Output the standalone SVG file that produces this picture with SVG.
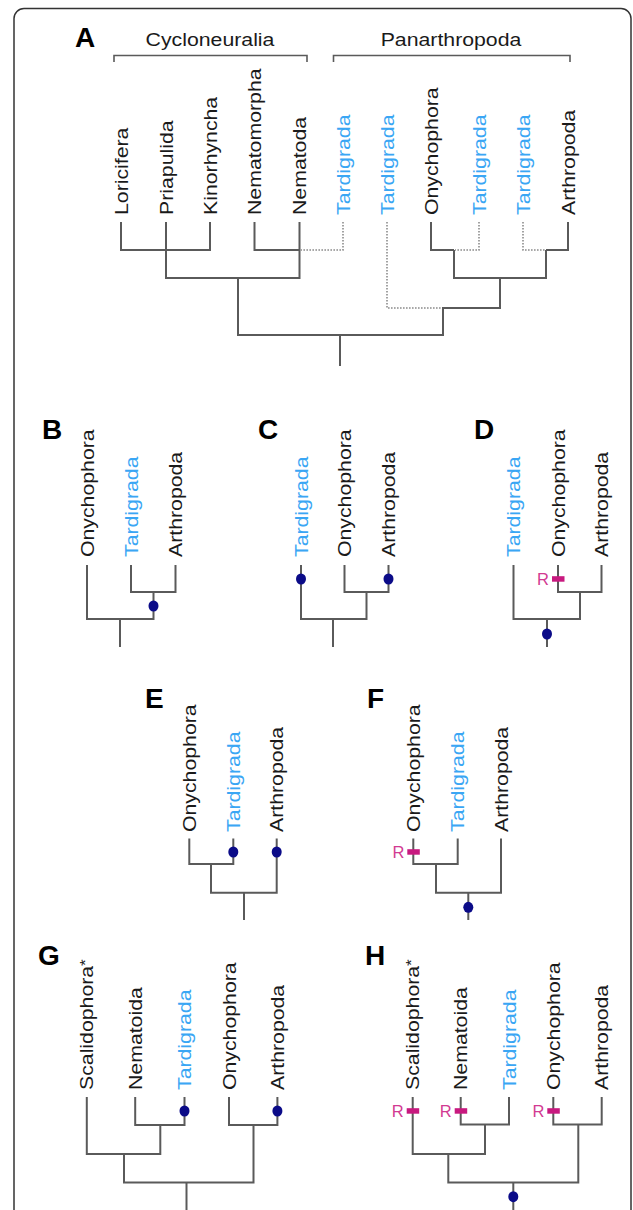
<svg xmlns="http://www.w3.org/2000/svg" width="633" height="1210" viewBox="0 0 633 1210">
<style>
.ln{stroke:#5a5a5a;stroke-width:2;fill:none;stroke-linejoin:miter}
.br{stroke:#5a5a5a;stroke-width:1.6;fill:none}
.dt{stroke:#8c8c8c;stroke-width:1.6;stroke-dasharray:1.6 1.4;fill:none}
.lab{font-family:"Liberation Sans",Arial,sans-serif;font-size:18.5px;fill:#1a1a1a}
.tg{fill:#3aa6f4}
.pl{font-family:"Liberation Sans",Arial,sans-serif;font-weight:bold;font-size:28px;fill:#000}
.dot{fill:#0b0b88}
.rb{fill:#c8197f}
.rt{font-family:"Liberation Sans",Arial,sans-serif;font-size:16.5px;fill:#d23a92;text-anchor:end}
</style>
<rect x="14" y="8.5" width="617" height="1240" rx="10" fill="#fff" stroke="#333" stroke-width="1.5"/>

<!-- Panel A -->
<g id="panelA">
<text class="pl" x="75" y="47">A</text>
<g id="A-Cycloneuralia"><text class="lab" transform="translate(210,46) scale(1.15,1)" text-anchor="middle">Cycloneuralia</text></g>
<g id="A-Panarthropoda"><text class="lab" transform="translate(451,46) scale(1.15,1)" text-anchor="middle">Panarthropoda</text></g>
<g id="A-Loricifera"><text class="lab" transform="translate(127.5,215) rotate(-90) scale(1.15,1)">Loricifera</text></g>
<g id="A-Priapulida"><text class="lab" transform="translate(172.5,215) rotate(-90) scale(1.15,1)">Priapulida</text></g>
<g id="A-Kinorhyncha"><text class="lab" transform="translate(216.5,215) rotate(-90) scale(1.15,1)">Kinorhyncha</text></g>
<g id="A-Nematomorpha"><text class="lab" transform="translate(261,215) rotate(-90) scale(1.15,1)">Nematomorpha</text></g>
<g id="A-Nematoda"><text class="lab" transform="translate(306,215) rotate(-90) scale(1.15,1)">Nematoda</text></g>
<g id="A-Tardigrada1"><text class="lab tg" transform="translate(349.5,215) rotate(-90) scale(1.15,1)">Tardigrada</text></g>
<g id="A-Tardigrada2"><text class="lab tg" transform="translate(393.5,215) rotate(-90) scale(1.15,1)">Tardigrada</text></g>
<g id="A-Onychophora"><text class="lab" transform="translate(437.5,215) rotate(-90) scale(1.15,1)">Onychophora</text></g>
<g id="A-Tardigrada3"><text class="lab tg" transform="translate(485.5,215) rotate(-90) scale(1.15,1)">Tardigrada</text></g>
<g id="A-Tardigrada4"><text class="lab tg" transform="translate(529.5,215) rotate(-90) scale(1.15,1)">Tardigrada</text></g>
<g id="A-Arthropoda"><text class="lab" transform="translate(574.5,215) rotate(-90) scale(1.15,1)">Arthropoda</text></g>
<g id="A-connectors">
<path class="br" d="M114,62 V55.5 H307 V62"/>
<path class="br" d="M333.5,62 V55.5 H570 V62"/>
<path class="ln" d="M121,222 V250 H210 V222"/>
<path class="ln" d="M166,222 V278 H299.5 V222"/>
<path class="ln" d="M254.5,222 V250 H299.5"/>
<path class="dt" d="M343,222 V250 H300.5"/>
<path class="ln" d="M238,278 V335 H443 V308 H500 V278"/>
<path class="ln" d="M454,250 V278 H546 V250"/>
<path class="ln" d="M431,222 V250 H454"/>
<path class="ln" d="M568,222 V250 H546"/>
<path class="dt" d="M387,222 V308 H442"/>
<path class="dt" d="M479,222 V250 H455"/>
<path class="dt" d="M523,222 V250 H545"/>
<path class="ln" d="M340,335 V366"/>
</g>
</g>

<!-- Panel B -->
<g id="panelB">
<text class="pl" x="42" y="439">B</text>
<g id="B-Onychophora"><text class="lab" transform="translate(93.5,557) rotate(-90) scale(1.15,1)">Onychophora</text></g>
<g id="B-Tardigrada"><text class="lab tg" transform="translate(137.5,557) rotate(-90) scale(1.15,1)">Tardigrada</text></g>
<g id="B-Arthropoda"><text class="lab" transform="translate(182,557) rotate(-90) scale(1.15,1)">Arthropoda</text></g>
<g id="B-connectors">
<path class="ln" d="M87,565 V619 H153.5 V592"/>
<path class="ln" d="M131,565 V592 H175.5 V565"/>
<path class="ln" d="M120,619 V647"/>
<ellipse class="dot" cx="153.5" cy="606" rx="5" ry="5.5"/>
</g>
</g>

<!-- Panel C -->
<g id="panelC">
<text class="pl" x="258" y="439">C</text>
<g id="C-Tardigrada"><text class="lab tg" transform="translate(307.5,557) rotate(-90) scale(1.15,1)">Tardigrada</text></g>
<g id="C-Onychophora"><text class="lab" transform="translate(351,557) rotate(-90) scale(1.15,1)">Onychophora</text></g>
<g id="C-Arthropoda"><text class="lab" transform="translate(395,557) rotate(-90) scale(1.15,1)">Arthropoda</text></g>
<g id="C-connectors">
<path class="ln" d="M301,565 V619 H366.5 V592"/>
<path class="ln" d="M344.5,565 V592 H388.5 V565"/>
<path class="ln" d="M333,619 V647"/>
<ellipse class="dot" cx="301" cy="579" rx="5" ry="5.5"/>
<ellipse class="dot" cx="388.5" cy="579" rx="5" ry="5.5"/>
</g>
</g>

<!-- Panel D -->
<g id="panelD">
<text class="pl" x="474" y="439">D</text>
<g id="D-Tardigrada"><text class="lab tg" transform="translate(520,557) rotate(-90) scale(1.15,1)">Tardigrada</text></g>
<g id="D-Onychophora"><text class="lab" transform="translate(564.5,557) rotate(-90) scale(1.15,1)">Onychophora</text></g>
<g id="D-Arthropoda"><text class="lab" transform="translate(608,557) rotate(-90) scale(1.15,1)">Arthropoda</text></g>
<g id="D-connectors">
<path class="ln" d="M513.5,565 V619 H580 V592"/>
<path class="ln" d="M558,565 V592 H601.5 V565"/>
<path class="ln" d="M547,619 V647"/>
<rect class="rb" x="552" y="576.2" width="12.5" height="5.5"/>
<text class="rt" x="549" y="584.8">R</text>
<ellipse class="dot" cx="547" cy="634" rx="5" ry="5.5"/>
</g>
</g>

<!-- Panel E -->
<g id="panelE">
<text class="pl" x="145" y="708">E</text>
<g id="E-Onychophora"><text class="lab" transform="translate(195.8,832) rotate(-90) scale(1.15,1)">Onychophora</text></g>
<g id="E-Tardigrada"><text class="lab tg" transform="translate(239.8,832) rotate(-90) scale(1.15,1)">Tardigrada</text></g>
<g id="E-Arthropoda"><text class="lab" transform="translate(283.2,832) rotate(-90) scale(1.15,1)">Arthropoda</text></g>
<g id="E-connectors">
<path class="ln" d="M189.3,838.5 V864 H233.3 V838.5"/>
<path class="ln" d="M211,864 V892.7 H276.7 V838.5"/>
<path class="ln" d="M244,892.7 V920"/>
<ellipse class="dot" cx="233.3" cy="852" rx="5" ry="5.5"/>
<ellipse class="dot" cx="276.7" cy="852" rx="5" ry="5.5"/>
</g>
</g>

<!-- Panel F -->
<g id="panelF">
<text class="pl" x="367" y="708">F</text>
<g id="F-Onychophora"><text class="lab" transform="translate(419.8,832) rotate(-90) scale(1.15,1)">Onychophora</text></g>
<g id="F-Tardigrada"><text class="lab tg" transform="translate(464.2,832) rotate(-90) scale(1.15,1)">Tardigrada</text></g>
<g id="F-Arthropoda"><text class="lab" transform="translate(507.5,832) rotate(-90) scale(1.15,1)">Arthropoda</text></g>
<g id="F-connectors">
<path class="ln" d="M413.3,838.5 V864 H457.7 V838.5"/>
<path class="ln" d="M436,864 V892.7 H501 V838.5"/>
<path class="ln" d="M468.3,892.7 V920"/>
<rect class="rb" x="407.3" y="849.2" width="12.5" height="5.5"/>
<text class="rt" x="404.3" y="857.8">R</text>
<ellipse class="dot" cx="468.3" cy="907.3" rx="5" ry="5.5"/>
</g>
</g>

<!-- Panel G -->
<g id="panelG">
<text class="pl" x="38" y="965">G</text>
<g id="G-Scalidophora"><text class="lab" transform="translate(93.3,1090) rotate(-90) scale(1.15,1)">Scalidophora<tspan font-size="15" dy="-3">*</tspan></text></g>
<g id="G-Nematoida"><text class="lab" transform="translate(141.7,1090) rotate(-90) scale(1.15,1)">Nematoida</text></g>
<g id="G-Tardigrada"><text class="lab tg" transform="translate(191,1090) rotate(-90) scale(1.15,1)">Tardigrada</text></g>
<g id="G-Onychophora"><text class="lab" transform="translate(235.5,1090) rotate(-90) scale(1.15,1)">Onychophora</text></g>
<g id="G-Arthropoda"><text class="lab" transform="translate(283.9,1090) rotate(-90) scale(1.15,1)">Arthropoda</text></g>
<g id="G-connectors">
<path class="ln" d="M135.2,1097 V1125 H184.5 V1097"/>
<path class="ln" d="M86.8,1097 V1154 H160.3 V1125"/>
<path class="ln" d="M229,1097 V1125 H277.4 V1097"/>
<path class="ln" d="M124,1154 V1182.5 H253.5 V1125"/>
<path class="ln" d="M186.5,1182.5 V1212"/>
<ellipse class="dot" cx="184.5" cy="1111" rx="5" ry="5.5"/>
<ellipse class="dot" cx="277.4" cy="1111" rx="5" ry="5.5"/>
</g>
</g>

<!-- Panel H -->
<g id="panelH">
<text class="pl" x="365" y="965">H</text>
<g id="H-Scalidophora"><text class="lab" transform="translate(419.2,1090) rotate(-90) scale(1.15,1)">Scalidophora<tspan font-size="15" dy="-3">*</tspan></text></g>
<g id="H-Nematoida"><text class="lab" transform="translate(467.2,1090) rotate(-90) scale(1.15,1)">Nematoida</text></g>
<g id="H-Tardigrada"><text class="lab tg" transform="translate(515.5,1090) rotate(-90) scale(1.15,1)">Tardigrada</text></g>
<g id="H-Onychophora"><text class="lab" transform="translate(559.8,1090) rotate(-90) scale(1.15,1)">Onychophora</text></g>
<g id="H-Arthropoda"><text class="lab" transform="translate(608.2,1090) rotate(-90) scale(1.15,1)">Arthropoda</text></g>
<g id="H-connectors">
<path class="ln" d="M460.7,1097 V1124.5 H509 V1097"/>
<path class="ln" d="M412.7,1097 V1154 H485 V1124.5"/>
<path class="ln" d="M553.3,1097 V1124.5 H601.7 V1097"/>
<path class="ln" d="M448.3,1154 V1182.5 H578.3 V1124.5"/>
<path class="ln" d="M513.3,1182.5 V1212"/>
<rect class="rb" x="406.7" y="1108.2" width="12.5" height="5.5"/>
<text class="rt" x="403.7" y="1116.8">R</text>
<rect class="rb" x="454.7" y="1108.2" width="12.5" height="5.5"/>
<text class="rt" x="451.7" y="1116.8">R</text>
<rect class="rb" x="547.3" y="1108.2" width="12.5" height="5.5"/>
<text class="rt" x="544.3" y="1116.8">R</text>
<ellipse class="dot" cx="513.3" cy="1196.7" rx="5" ry="5.5"/>
</g>
</g>
</svg>
